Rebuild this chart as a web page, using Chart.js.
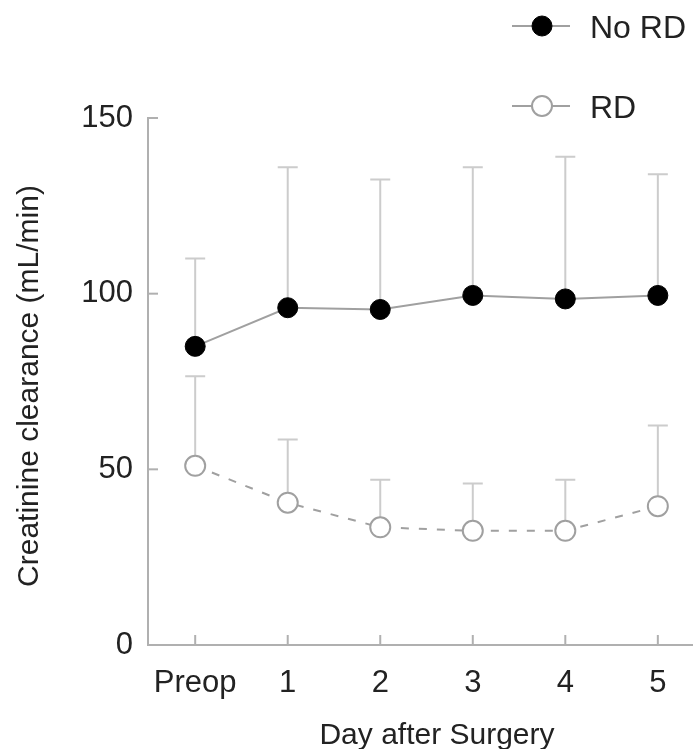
<!DOCTYPE html>
<html>
<head>
<meta charset="utf-8">
<script src="https://cdn.jsdelivr.net/npm/chart.js@4"></script>
<style>
  html, body { margin: 0; padding: 0; background: #fff; }
  #wrap { width: 693px; height: 749px; }
</style>
</head>
<body>
<div id="wrap"><canvas id="myChart" width="693" height="749"></canvas></div>
<script>
// data
let days = ['Preop', '1', '2', '3', '4', '5']
let noRD = [85, 96, 95.5, 99.5, 98.5, 99.5]
let noRDupper = [110, 136, 132.5, 136, 139, 134]
let rd = [51, 40.5, 33.5, 32.5, 32.5, 39.5]
let rdUpper = [76.5, 58.5, 47, 46, 47, 62.5]
let yTicks = [0, 50, 100, 150]

const FONT = '"Liberation Sans", Arial, sans-serif'
const AXIS = '#b0b0b0'
const BAR = '#cccccc'
const TXT = '#222222'

const toPts = arr => arr.map((v, i) => ({ x: i, y: v }))

// upper error bars, drawn under the markers
const errorBars = {
  id: 'errorBars',
  beforeDatasetsDraw(chart) {
    const { ctx, scales: { x, y } } = chart
    const uppers = [noRDupper, rdUpper]
    ctx.save()
    ctx.strokeStyle = BAR
    ctx.lineWidth = 2
    chart.data.datasets.forEach((ds, d) => {
      ds.data.forEach((p, i) => {
        const px = x.getPixelForValue(p.x)
        const py = y.getPixelForValue(p.y)
        const pu = y.getPixelForValue(uppers[d][i])
        ctx.beginPath()
        ctx.moveTo(px, py)
        ctx.lineTo(px, pu)
        ctx.moveTo(px - 10, pu)
        ctx.lineTo(px + 10, pu)
        ctx.stroke()
      })
    })
    ctx.restore()
  }
}

// inward tick marks, legend and axis titles
const decor = {
  id: 'decor',
  afterDraw(chart) {
    const { ctx, scales: { x, y }, chartArea } = chart
    ctx.save()
    ctx.strokeStyle = AXIS
    ctx.lineWidth = 2
    yTicks.forEach(v => {
      const py = y.getPixelForValue(v)
      ctx.beginPath()
      ctx.moveTo(chartArea.left, py)
      ctx.lineTo(chartArea.left + 10, py)
      ctx.stroke()
    })
    days.forEach((d, i) => {
      const px = x.getPixelForValue(i)
      ctx.beginPath()
      ctx.moveTo(px, chartArea.bottom)
      ctx.lineTo(px, chartArea.bottom - 10)
      ctx.stroke()
    })

    // legend
    const items = [
      { label: 'No RD', y: 26, ds: chart.data.datasets[0] },
      { label: 'RD', y: 106, ds: chart.data.datasets[1] }
    ]
    items.forEach(it => {
      ctx.strokeStyle = '#a0a0a0'
      ctx.lineWidth = 2
      ctx.setLineDash([])
      ctx.beginPath()
      ctx.moveTo(512, it.y)
      ctx.lineTo(570, it.y)
      ctx.stroke()
      ctx.beginPath()
      ctx.arc(542, it.y, it.ds.pointRadius, 0, Math.PI * 2)
      ctx.fillStyle = it.ds.pointBackgroundColor
      ctx.fill()
      ctx.strokeStyle = it.ds.pointBorderColor
      ctx.lineWidth = it.ds.pointBorderWidth
      ctx.stroke()
      ctx.fillStyle = TXT
      ctx.font = '32px ' + FONT
      ctx.textAlign = 'left'
      ctx.textBaseline = 'middle'
      ctx.fillText(it.label, 590, it.y + 3)
    })

    // axis titles
    ctx.fillStyle = TXT
    ctx.font = '30px ' + FONT
    ctx.textAlign = 'center'
    ctx.textBaseline = 'middle'
    ctx.fillText('Day after Surgery', 437, 736)
    ctx.translate(30, 386)
    ctx.rotate(-Math.PI / 2)
    ctx.fillText('Creatinine clearance (mL/min)', 0, 0)
    ctx.restore()
  }
}

const data = {
  datasets: [{
    label: 'No RD',
    data: toPts(noRD),
    borderColor: '#a0a0a0',
    borderWidth: 2,
    pointRadius: 10,
    pointBackgroundColor: '#000000',
    pointBorderColor: '#000000',
    pointBorderWidth: 1,
    fill: false
  }, {
    label: 'RD',
    data: toPts(rd),
    borderColor: '#a0a0a0',
    borderWidth: 2,
    borderDash: [8, 10],
    pointRadius: 10,
    pointBackgroundColor: '#ffffff',
    pointBorderColor: '#a0a0a0',
    pointBorderWidth: 2,
    fill: false
  }]
}

const config = {
  type: 'line',
  data: data,
  options: {
    responsive: false,
    animation: false,
    events: [],
    layout: { autoPadding: false, padding: { top: 118, right: 0, left: 0, bottom: 0 } },
    plugins: { legend: { display: false }, tooltip: { enabled: false } },
    scales: {
      x: {
        type: 'linear',
        min: -0.51,
        max: 5.38,
        grid: { display: false, drawTicks: false },
        border: { display: true, color: AXIS, width: 2 },
        afterBuildTicks: s => { s.ticks = days.map((d, i) => ({ value: i })) },
        afterFit: s => { s.height = 104; s.paddingLeft = 0; s.paddingRight = 0 },
        ticks: {
          autoSkip: false,
          maxRotation: 0,
          padding: 20,
          color: TXT,
          font: { family: FONT, size: 31 },
          callback: v => days[v]
        }
      },
      y: {
        min: 0,
        max: 150,
        grid: { display: false, drawTicks: false },
        border: { display: true, color: AXIS, width: 2 },
        afterBuildTicks: s => { s.ticks = yTicks.map(v => ({ value: v })) },
        afterFit: s => { s.width = 148; s.paddingTop = 0; s.paddingBottom = 0 },
        ticks: {
          padding: 15,
          color: TXT,
          font: { family: FONT, size: 31 }
        }
      }
    }
  },
  plugins: [errorBars, decor]
}

const myChart = new Chart(document.getElementById('myChart'), config)
</script>
</body>
</html>
